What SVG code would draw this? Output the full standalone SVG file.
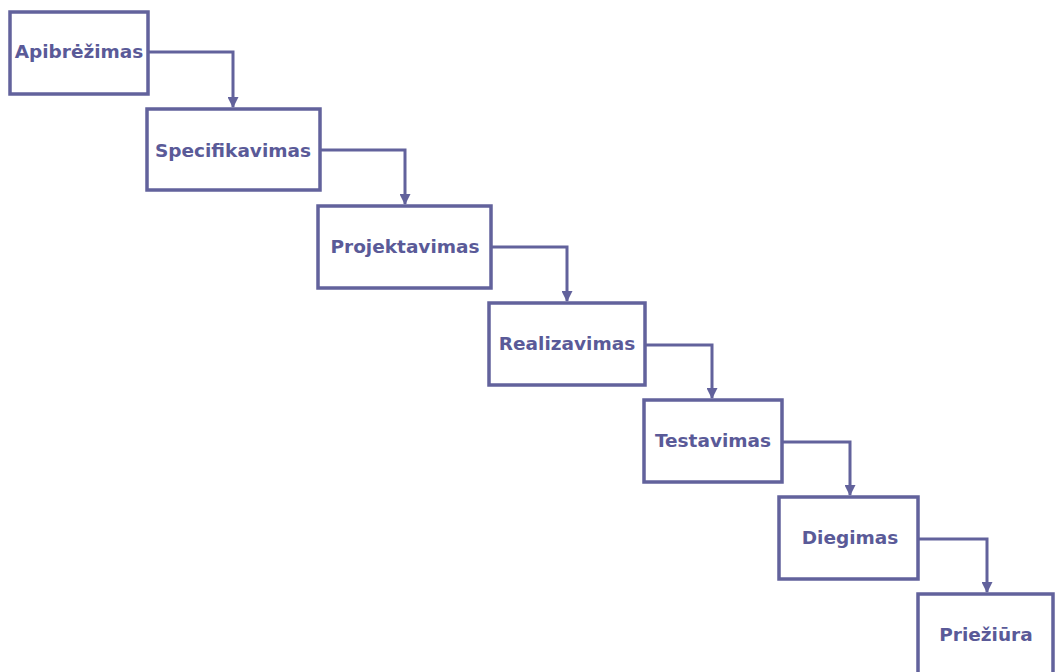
<svg xmlns="http://www.w3.org/2000/svg" width="1055" height="672" viewBox="0 0 1055 672">
<defs>
<marker id="ah" markerWidth="11" markerHeight="11" refX="10" refY="5.5" orient="auto" markerUnits="userSpaceOnUse"><path d="M0,0 L11,5.5 L0,11 Z" fill="#62629c"/></marker>
<style>
.box{fill:#fff;stroke:#62629c;stroke-width:3.5}
.lbl{font-family:"DejaVu Sans",Verdana,sans-serif;font-weight:bold;font-size:18.5px;fill:#5a5a98;text-anchor:middle}
.con{fill:none;stroke:#62629c;stroke-width:3}
</style>
</defs>
<rect width="1055" height="672" fill="#fff"/>
<g id="connectors">
<path class="con" d="M148,52 H233 V107" marker-end="url(#ah)"/>
<path class="con" d="M320,150 H405 V204" marker-end="url(#ah)"/>
<path class="con" d="M491,247 H567 V301" marker-end="url(#ah)"/>
<path class="con" d="M645,345 H712 V398" marker-end="url(#ah)"/>
<path class="con" d="M782,442 H850 V495" marker-end="url(#ah)"/>
<path class="con" d="M918,539 H987 V592" marker-end="url(#ah)"/>
</g>
<g id="n1"><rect class="box" x="10" y="12" width="138" height="82"/><text class="lbl" x="79" y="58">Apibrėžimas</text></g>
<g id="n2"><rect class="box" x="147" y="109" width="173" height="81"/><text class="lbl" x="233" y="157">Specifikavimas</text></g>
<g id="n3"><rect class="box" x="318" y="206" width="173" height="82"/><text class="lbl" x="405" y="253">Projektavimas</text></g>
<g id="n4"><rect class="box" x="489" y="303" width="156" height="82"/><text class="lbl" x="567" y="350">Realizavimas</text></g>
<g id="n5"><rect class="box" x="644" y="400" width="138" height="82"/><text class="lbl" x="713" y="447">Testavimas</text></g>
<g id="n6"><rect class="box" x="779" y="497" width="139" height="82"/><text class="lbl" x="850" y="544">Diegimas</text></g>
<g id="n7"><rect class="box" x="918" y="594" width="135" height="90"/><text class="lbl" x="986" y="641">Priežiūra</text></g>
</svg>
